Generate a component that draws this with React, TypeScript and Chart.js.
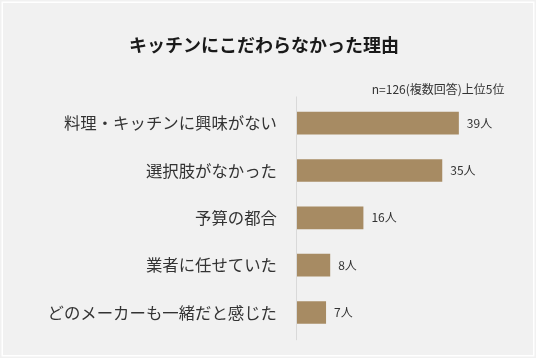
import React, { useEffect, useRef } from "react";
import { Chart, registerables } from "chart.js";

Chart.register(...registerables);

const TITLE = "キッチンにこだわらなかった理由";
const SUBTITLE = "n=126(複数回答)上位5位";
const categories = [
  "料理・キッチンに興味がない",
  "選択肢がなかった",
  "予算の都合",
  "業者に任せていた",
  "どのメーカーも一緒だと感じた",
];
const values = [39, 35, 16, 8, 7];
const unit = "人";

const FONT = "'Noto Sans CJK JP', 'Noto Sans', sans-serif";

const decorPlugin = {
  id: "decor",
  beforeDraw(chart: any) {
    const { ctx, width, height } = chart;
    ctx.save();
    ctx.fillStyle = "#f1f1f1";
    ctx.fillRect(0, 0, width, height);
    ctx.strokeStyle = "#ffffff";
    ctx.lineWidth = 1.5;
    ctx.strokeRect(2.25, 2.25, width - 4.5, height - 4.5);
    ctx.restore();
  },
  afterDraw(chart: any) {
    const { ctx, chartArea } = chart;
    ctx.save();
    ctx.strokeStyle = "#d9d9d9";
    ctx.lineWidth = 1;
    ctx.beginPath();
    ctx.moveTo(chartArea.left - 0.5, chartArea.top - 3);
    ctx.lineTo(chartArea.left - 0.5, chartArea.bottom + 4);
    ctx.stroke();
    ctx.fillStyle = "#1a1a1a";
    ctx.font = `bold 18px ${FONT}`;
    ctx.textAlign = "center";
    ctx.textBaseline = "middle";
    ctx.fillText(TITLE, 264, 45);
    ctx.fillStyle = "#333333";
    ctx.font = `12px ${FONT}`;
    ctx.textAlign = "right";
    ctx.fillText(SUBTITLE, chartArea.right, 89);
    const meta = chart.getDatasetMeta(0);
    ctx.textAlign = "left";
    ctx.font = `12px ${FONT}`;
    meta.data.forEach((bar: any, i: number) => {
      ctx.fillText(values[i] + unit, bar.x + 8, bar.y);
    });
    ctx.restore();
  },
};

export default function App() {
  const ref = useRef<HTMLCanvasElement | null>(null);
  useEffect(() => {
    if (!ref.current) return;
    const chart = new Chart(ref.current, {
      type: "bar",
      data: {
        labels: categories,
        datasets: [
          {
            data: values,
            backgroundColor: "#a78b63",
            barPercentage: 0.8,
            categoryPercentage: 0.6,
          },
        ],
      },
      options: {
        indexAxis: "y",
        animation: false,
        responsive: false,
        maintainAspectRatio: false,
        layout: { padding: { top: 99.5, bottom: 19, left: 0, right: 31.5 } },
        plugins: {
          legend: { display: false },
          tooltip: { enabled: false },
          title: { display: false },
        },
        scales: {
          x: { display: false, min: 0, max: 50 },
          y: {
            grid: { display: false },
            border: { display: false },
            ticks: {
              padding: 12,
              color: "#333333",
              font: { size: 16.4, family: FONT },
            },
            afterFit(scale: any) {
              scale.width = 297;
            },
          },
        },
      },
      plugins: [decorPlugin],
    });
    return () => chart.destroy();
  }, []);
  return (
    <div style={{ position: "fixed", left: 0, top: 0, width: 536, height: 358 }}>
      <canvas ref={ref} width={536} height={358} style={{ display: "block", width: 536, height: 358 }} />
    </div>
  );
}
